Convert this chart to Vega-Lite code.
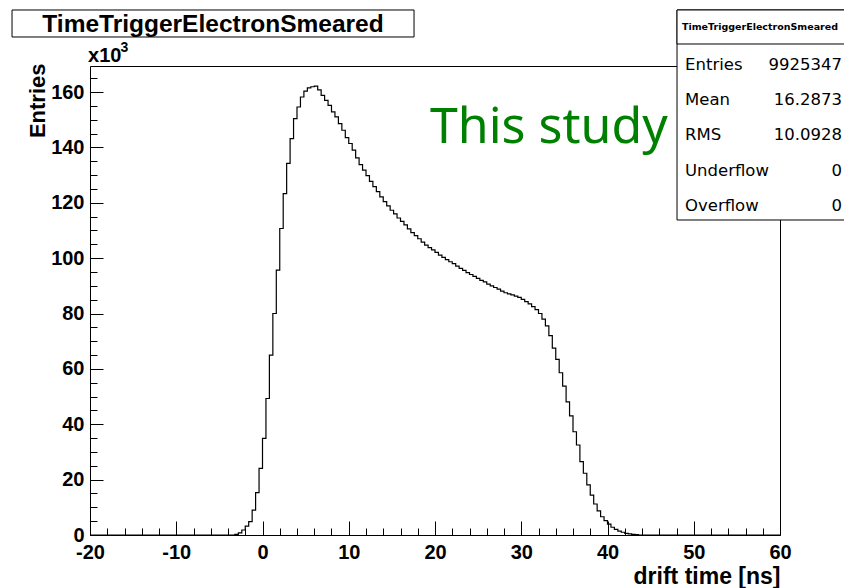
{
  "$schema": "https://vega.github.io/schema/vega-lite/v6.json",
  "width": 690,
  "height": 469,
  "autosize": {"type": "none"},
  "padding": {"left": 90, "top": 66, "right": 64, "bottom": 53},
  "background": "white",
  "config": {
    "view": {"stroke": "black", "strokeWidth": 1},
    "axis": {"domain": false, "grid": false, "tickColor": "black", "tickWidth": 1, "labelColor": "black", "titleColor": "black", "labelFlush": false, "labelOverlap": false}
  },
  "data": {"values": [
    {"t": -20, "entries": 0}, {"t": -3.2, "entries": 200}, {"t": -2.8, "entries": 800}, {"t": -2.4, "entries": 1800}, {"t": -2.0, "entries": 3200}, {"t": -1.6, "entries": 4800}, {"t": -1.2, "entries": 9000}, {"t": -0.8, "entries": 15300}, {"t": -0.4, "entries": 24100},
    {"t": 0.0, "entries": 34900}, {"t": 0.4, "entries": 49300}, {"t": 0.8, "entries": 65000}, {"t": 1.2, "entries": 80000}, {"t": 1.6, "entries": 95700}, {"t": 2.0, "entries": 110700}, {"t": 2.4, "entries": 123300}, {"t": 2.8, "entries": 134200}, {"t": 3.2, "entries": 143200}, {"t": 3.6, "entries": 150400},
    {"t": 4.0, "entries": 154600}, {"t": 4.4, "entries": 158200}, {"t": 4.8, "entries": 160300}, {"t": 5.2, "entries": 161500}, {"t": 5.6, "entries": 161900}, {"t": 6.0, "entries": 162100}, {"t": 6.4, "entries": 160800}, {"t": 6.8, "entries": 158800}, {"t": 7.2, "entries": 157000}, {"t": 7.6, "entries": 155200},
    {"t": 8.0, "entries": 152800}, {"t": 8.4, "entries": 151000}, {"t": 8.8, "entries": 148600}, {"t": 9.2, "entries": 146200}, {"t": 9.6, "entries": 143500}, {"t": 10.0, "entries": 141400}, {"t": 10.4, "entries": 139000}, {"t": 10.8, "entries": 136200}, {"t": 11.2, "entries": 133800}, {"t": 11.6, "entries": 131800},
    {"t": 12.0, "entries": 129800}, {"t": 12.4, "entries": 127700}, {"t": 12.8, "entries": 125800}, {"t": 13.2, "entries": 124000}, {"t": 13.6, "entries": 122100}, {"t": 14.0, "entries": 120400}, {"t": 14.4, "entries": 118900}, {"t": 14.8, "entries": 117300}, {"t": 15.2, "entries": 116000}, {"t": 15.6, "entries": 114500},
    {"t": 16.0, "entries": 113300}, {"t": 16.4, "entries": 112000}, {"t": 16.8, "entries": 110600}, {"t": 17.2, "entries": 109200}, {"t": 17.6, "entries": 108100}, {"t": 18.0, "entries": 107000}, {"t": 18.4, "entries": 105800}, {"t": 18.8, "entries": 104700}, {"t": 19.2, "entries": 103800}, {"t": 19.6, "entries": 103000},
    {"t": 20.0, "entries": 102100}, {"t": 20.4, "entries": 101100}, {"t": 20.8, "entries": 100300}, {"t": 21.2, "entries": 99500}, {"t": 21.6, "entries": 98700}, {"t": 22.0, "entries": 98000}, {"t": 22.4, "entries": 97100}, {"t": 22.8, "entries": 96300}, {"t": 23.2, "entries": 95600}, {"t": 23.6, "entries": 94800},
    {"t": 24.0, "entries": 94100}, {"t": 24.4, "entries": 93400}, {"t": 24.8, "entries": 92700}, {"t": 25.2, "entries": 92000}, {"t": 25.6, "entries": 91400}, {"t": 26.0, "entries": 90600}, {"t": 26.4, "entries": 90000}, {"t": 26.8, "entries": 89400}, {"t": 27.2, "entries": 88800}, {"t": 27.6, "entries": 88100},
    {"t": 28.0, "entries": 87500}, {"t": 28.4, "entries": 87100}, {"t": 28.8, "entries": 86700}, {"t": 29.2, "entries": 86300}, {"t": 29.6, "entries": 85800}, {"t": 30.0, "entries": 85100}, {"t": 30.4, "entries": 84300}, {"t": 30.8, "entries": 83500}, {"t": 31.2, "entries": 82500}, {"t": 31.6, "entries": 81400},
    {"t": 32.0, "entries": 80000}, {"t": 32.4, "entries": 78000}, {"t": 32.8, "entries": 75500}, {"t": 33.2, "entries": 72000}, {"t": 33.6, "entries": 67500}, {"t": 34.0, "entries": 63400}, {"t": 34.4, "entries": 58600}, {"t": 34.8, "entries": 53800}, {"t": 35.2, "entries": 48100}, {"t": 35.6, "entries": 43000},
    {"t": 36.0, "entries": 37300}, {"t": 36.4, "entries": 32500}, {"t": 36.8, "entries": 26500}, {"t": 37.2, "entries": 22300}, {"t": 37.6, "entries": 18100}, {"t": 38.0, "entries": 14400}, {"t": 38.4, "entries": 11200}, {"t": 38.8, "entries": 8700}, {"t": 39.2, "entries": 6600}, {"t": 39.6, "entries": 5200},
    {"t": 40.0, "entries": 3900}, {"t": 40.4, "entries": 2800}, {"t": 40.8, "entries": 2000}, {"t": 41.2, "entries": 1400}, {"t": 41.6, "entries": 1000}, {"t": 42.0, "entries": 600}, {"t": 42.4, "entries": 400}, {"t": 42.8, "entries": 200}, {"t": 43.2, "entries": 100}, {"t": 43.6, "entries": 0},
    {"t": 60, "entries": 0}
  ]},
  "layer": [
    {
      "mark": {"type": "line", "interpolate": "step-after", "color": "black", "strokeWidth": 1.2},
      "encoding": {
        "x": {"field": "t", "type": "quantitative",
          "scale": {"domain": [-20, 60], "nice": false, "zero": false},
          "axis": {"orient": "bottom", "values": [-20, -10, 0, 10, 20, 30, 40, 50, 60], "labelExpr": "'' + datum.value", "tickSize": -14, "labelPadding": 21,
            "labelFont": "Liberation Sans", "labelFontWeight": "bold", "labelFontSize": 20, "labelBaseline": "top",
            "title": "drift time [ns]", "titleFont": "Liberation Sans", "titleFontWeight": "bold", "titleFontSize": 23,
            "titleAnchor": "end", "titleAlign": "right", "titleBaseline": "alphabetic", "titleX": 690, "titleY": 48}},
        "y": {"field": "entries", "type": "quantitative",
          "scale": {"domain": [0, 169400], "nice": false, "zero": true},
          "axis": {"orient": "left", "values": [0, 20000, 40000, 60000, 80000, 100000, 120000, 140000, 160000], "labelExpr": "'' + (datum.value / 1000)",
            "tickSize": -13, "labelPadding": 19,
            "labelFont": "Liberation Sans", "labelFontWeight": "bold", "labelFontSize": 20, "labelAlign": "right", "labelBaseline": "middle",
            "title": "Entries", "titleFont": "Liberation Sans", "titleFontWeight": "bold", "titleFontSize": 22,
            "titleAngle": 270, "titleAlign": "right", "titleBaseline": "alphabetic", "titleX": -46, "titleY": -3}}
      }
    },
    {
      "mark": {"type": "line", "interpolate": "step-after", "strokeOpacity": 0},
      "encoding": {
        "x": {"field": "t", "type": "quantitative",
          "axis": {"orient": "bottom", "values": [-18, -16, -14, -12, -8, -6, -4, -2, 2, 4, 6, 8, 12, 14, 16, 18, 22, 24, 26, 28, 32, 34, 36, 38, 42, 44, 46, 48, 52, 54, 56, 58], "tickSize": -7, "labels": false, "title": null}},
        "y": {"field": "entries", "type": "quantitative",
          "axis": {"orient": "left", "values": [5000, 10000, 15000, 25000, 30000, 35000, 45000, 50000, 55000, 65000, 70000, 75000, 85000, 90000, 95000, 105000, 110000, 115000, 125000, 130000, 135000, 145000, 150000, 155000, 165000], "tickSize": -7, "labels": false, "title": null}}
      }
    },
    {
      "data": {"values": [{"label": "This study"}]},
      "mark": {"type": "text", "font": "Noto Sans", "fontSize": 50, "color": "#008000", "align": "left", "baseline": "alphabetic", "clip": false},
      "encoding": {
        "x": {"datum": 19.42, "type": "quantitative", "axis": null},
        "y": {"datum": 141590, "type": "quantitative", "axis": null},
        "text": {"field": "label"}
      }
    },
    {
      "data": {"values": [{"label": "x10"}]},
      "mark": {"type": "text", "font": "Liberation Sans", "fontWeight": "bold", "fontSize": 20, "color": "black", "align": "left", "baseline": "alphabetic", "clip": false},
      "encoding": {
        "x": {"datum": -20.23, "type": "quantitative", "axis": null},
        "y": {"datum": 170850, "type": "quantitative", "axis": null},
        "text": {"field": "label"}
      }
    },
    {
      "data": {"values": [{"label": "3"}]},
      "mark": {"type": "text", "font": "Liberation Sans", "fontWeight": "bold", "fontSize": 14, "color": "black", "align": "left", "baseline": "alphabetic", "clip": false},
      "encoding": {
        "x": {"datum": -16.45, "type": "quantitative", "axis": null},
        "y": {"datum": 174460, "type": "quantitative", "axis": null},
        "text": {"field": "label"}
      }
    },
    {
      "data": {"values": [{}]},
      "mark": {"type": "rect", "fill": "white", "stroke": "black", "strokeWidth": 1, "clip": false},
      "encoding": {
        "x": {"datum": -29.04, "type": "quantitative", "axis": null},
        "x2": {"datum": 17.57},
        "y": {"datum": 189630, "type": "quantitative", "axis": null},
        "y2": {"datum": 179880}
      }
    },
    {
      "data": {"values": [{"label": "TimeTriggerElectronSmeared"}]},
      "mark": {"type": "text", "font": "Liberation Sans", "fontWeight": "bold", "fontSize": 24.5, "color": "black", "align": "center", "baseline": "alphabetic", "clip": false},
      "encoding": {
        "x": {"datum": -5.74, "type": "quantitative", "axis": null},
        "y": {"datum": 181700, "type": "quantitative", "axis": null},
        "text": {"field": "label"}
      }
    },
    {
      "data": {"values": [{}]},
      "mark": {"type": "rect", "fill": "white", "stroke": "black", "strokeWidth": 1, "clip": false},
      "encoding": {
        "x": {"datum": 48.06, "type": "quantitative", "axis": null},
        "x2": {"datum": 68.1},
        "y": {"datum": 189630, "type": "quantitative", "axis": null},
        "y2": {"datum": 113780}
      }
    },
    {
      "data": {"values": [{}]},
      "mark": {"type": "rect", "fill": "white", "stroke": "black", "strokeWidth": 1, "clip": false},
      "encoding": {
        "x": {"datum": 48.06, "type": "quantitative", "axis": null},
        "x2": {"datum": 68.1},
        "y": {"datum": 189630, "type": "quantitative", "axis": null},
        "y2": {"datum": 177350}
      }
    },
    {
      "data": {"values": [{"label": "TimeTriggerElectronSmeared"}]},
      "mark": {"type": "text", "font": "DejaVu Sans", "fontWeight": "bold", "fontSize": 9.5, "color": "black", "align": "center", "baseline": "middle", "clip": false},
      "encoding": {
        "x": {"datum": 57.68, "type": "quantitative", "axis": null},
        "y": {"datum": 183490, "type": "quantitative", "axis": null},
        "text": {"field": "label"}
      }
    },
    {
      "data": {"values": [{}]},
      "mark": {"type": "text", "font": "DejaVu Sans", "fontSize": 16.5, "color": "black", "align": "left", "baseline": "alphabetic", "lineHeight": 35.25, "clip": false,
        "text": ["Entries", "Mean", "RMS", "Underflow", "Overflow"]},
      "encoding": {
        "x": {"datum": 48.99, "type": "quantitative", "axis": null},
        "y": {"datum": 167960, "type": "quantitative", "axis": null}
      }
    },
    {
      "data": {"values": [{}]},
      "mark": {"type": "text", "font": "DejaVu Sans", "fontSize": 16.5, "color": "black", "align": "right", "baseline": "alphabetic", "lineHeight": 35.25, "clip": false,
        "text": ["9925347", "16.2873", "10.0928", "0", "0"]},
      "encoding": {
        "x": {"datum": 67.19, "type": "quantitative", "axis": null},
        "y": {"datum": 167960, "type": "quantitative", "axis": null}
      }
    }
  ],
  "resolve": {"axis": {"x": "independent", "y": "independent"}}
}
